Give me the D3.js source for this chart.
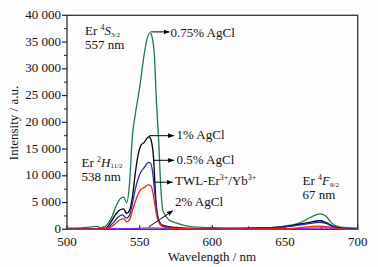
<!DOCTYPE html>
<html><head><meta charset="utf-8">
<script src="https://cdn.jsdelivr.net/npm/d3@7/dist/d3.min.js"></script>
<style>
body{margin:0;background:#fdfdfd;}
svg text{font-family:"Liberation Serif","Times New Roman",serif;fill:#111;}
</style></head>
<body><svg id="c" width="378" height="267"></svg>
<script>
// ---- data ----
const xTicks = [500, 550, 600, 650, 700];
const yTicks = [0, 5000, 10000, 15000, 20000, 25000, 30000, 35000, 40000];
const yTickLabels = ["0", "5 000", "10 000", "15 000", "20 000", "25 000", "30 000", "35 000", "40 000"];

const wlGreen = [500,510,515,520,524,527,531,534,537,539,541,543,545,547,550,553,555,557,558,560,561.5,563,564.5,566,570,576,585,600,620,640,650,660,668,674,678,682,688,700];
const green   = [200,250,400,550,300,700,2400,4500,5800,6000,5000,8500,17500,21500,26500,32500,35500,36700,36400,33000,24000,17000,8000,3500,1800,1100,500,300,200,300,600,1200,2300,2900,2500,1200,400,200];

const wlBlack = [500,525,528,531,534,537,539,541,543,545,547,549,551,553,555,556.5,558,559.5,561,562.5,565,570,580,600,640,655,665,674,678,683,690,700];
const black   = [0,100,500,1700,3000,3700,3800,3000,3500,6000,10500,14000,15800,16200,17000,17300,16500,13500,6000,2000,900,500,200,100,300,700,1200,1600,1300,600,150,50];

const wlBlue = [500,526,529,532,535,538,541,543,545,547,549,551,553,556,557.5,559,560.5,562,564,567,575,600,640,655,665,674,678,683,690,700];
const blue   = [0,100,500,1300,2200,2700,2100,2600,4800,7500,9500,10800,11500,12500,12400,10500,6500,3200,1200,500,200,80,250,600,1000,1300,1100,500,100,50];

const wlRed = [500,527,530,533,536,539,541,543,545,547,549,551,553,556,557.5,559,560.5,562,564,567,575,600,650,660,668,674,678,684,690,700];
const red   = [0,100,400,1000,1700,2000,1400,1800,3500,5200,6600,7500,7800,8300,8200,7000,4500,2200,900,400,150,50,100,300,500,600,500,200,50,0];

const wlPurple = [500,540,557,575,600,650,674,700];
const purple   = [80,120,250,120,80,100,250,80];

const seriesNames = ["0.75% AgCl", "1% AgCl", "0.5% AgCl", "TWL-Er3+/Yb3+", "2% AgCl"];

// ---- layout ----
const svg = d3.select("#c");
const L = 67, R = 357.7, T = 15.3, B = 229.3;
const x = d3.scaleLinear().domain([500, 700]).range([L, R]);
const y = d3.scaleLinear().domain([0, 40000]).range([B, T]);

// frame
svg.append("rect").attr("x", L).attr("y", T).attr("width", R - L).attr("height", B - T)
  .attr("fill", "none").attr("stroke", "#333").attr("stroke-width", 1.3);

// y axis
const yMinor = d3.range(0, 40001, 2500).filter(v => v % 5000 !== 0);
const gy = svg.append("g");
gy.selectAll("line.maj").data(yTicks).join("line")
  .attr("x1", L - 5).attr("x2", L).attr("y1", d => y(d)).attr("y2", d => y(d))
  .attr("stroke", "#222").attr("stroke-width", 1.2);
gy.selectAll("line.min").data(yMinor).join("line")
  .attr("x1", L - 3).attr("x2", L).attr("y1", d => y(d)).attr("y2", d => y(d))
  .attr("stroke", "#222").attr("stroke-width", 1);
gy.selectAll("text").data(yTicks).join("text")
  .attr("x", L - 6).attr("y", d => y(d) + 3.5).attr("text-anchor", "end")
  .attr("font-size", 13).text((d, i) => yTickLabels[i]);

// x axis
const xMinor = d3.range(525, 700, 50);
const gx = svg.append("g");
gx.selectAll("line.maj").data(xTicks).join("line")
  .attr("x1", d => x(d)).attr("x2", d => x(d)).attr("y1", B).attr("y2", B - 4)
  .attr("stroke", "#222").attr("stroke-width", 1.2);
gx.selectAll("line.min").data(xMinor).join("line")
  .attr("x1", d => x(d)).attr("x2", d => x(d)).attr("y1", B).attr("y2", B - 3)
  .attr("stroke", "#222").attr("stroke-width", 1);
gx.selectAll("text").data(xTicks).join("text")
  .attr("x", d => x(d)).attr("y", 245.5).attr("text-anchor", "middle")
  .attr("font-size", 13).text(d => d);

// axis titles
svg.append("text").attr("x", 212).attr("y", 260.5).attr("text-anchor", "middle")
  .attr("font-size", 13).text("Wavelength / nm");
svg.append("text").attr("transform", "translate(18,123) rotate(-90)").attr("text-anchor", "middle")
  .attr("font-size", 13).text("Intensity / a.u.");

// curves
const line = d3.line().x(d => x(d[0])).y(d => y(d[1])).curve(d3.curveMonotoneX);
const zip = (a, b) => a.map((v, i) => [v, b[i]]);
const curves = [
  [wlPurple, purple, "#8a2be2"],
  [wlGreen, green, "#1e7a4c"],
  [wlBlack, black, "#000000"],
  [wlBlue, blue, "#2b2bb0"],
  [wlRed, red, "#f02020"]
];
svg.append("g").selectAll("path").data(curves).join("path")
  .attr("d", d => line(zip(d[0], d[1])))
  .attr("fill", "none").attr("stroke", d => d[2]).attr("stroke-width", 1.3);

// arrow marker
svg.append("defs").append("marker").attr("id", "ah").attr("viewBox", "0 0 10 10")
  .attr("refX", 10).attr("refY", 5).attr("markerWidth", 6).attr("markerHeight", 6)
  .attr("markerUnits", "userSpaceOnUse").attr("orient", "auto")
  .append("path").attr("d", "M0,1 L10,5 L0,9 Z").attr("fill", "#000");

// annotations (arrows from curves to labels)
const ann = [
  {from: [557.5, 36900], to: [x(557.5) + 19, y(36900)]},
  {from: [556.5, 17500], to: [x(556.5) + 25, y(17500)]},
  {from: [559.3, 12900], to: [x(559.3) + 21, y(12900)]},
  {from: [560.3, 8800], to: [x(560.3) + 18, y(8800)]},
  {from: [556.5, 500], to: [x(556.5) + 24, 210.5]}
];
ann.forEach(a => {
  svg.append("line").attr("x1", x(a.from[0])).attr("y1", y(a.from[1]))
    .attr("x2", a.to[0]).attr("y2", a.to[1])
    .attr("stroke", "#000").attr("stroke-width", 1).attr("marker-end", "url(#ah)");
});
svg.append("text").attr("x", 170.5).attr("y", 37).attr("font-size", 13).text(seriesNames[0]);
svg.append("text").attr("x", 176.5).attr("y", 138.5).attr("font-size", 13).text(seriesNames[1]);
svg.append("text").attr("x", 176.5).attr("y", 163.5).attr("font-size", 13).text(seriesNames[2]);
const tw = svg.append("text").attr("x", 175).attr("y", 184.5).attr("font-size", 13);
tw.append("tspan").text("TWL-Er");
tw.append("tspan").attr("font-size", 8).attr("dy", -5).text("3+");
tw.append("tspan").attr("dy", 5).text("/Yb");
tw.append("tspan").attr("font-size", 8).attr("dy", -5).text("3+");
svg.append("text").attr("x", 175).attr("y", 206).attr("font-size", 13).text(seriesNames[4]);

// transition labels
function trans(xp, yp, sup, letter, sub, nm) {
  const t = svg.append("text").attr("x", xp).attr("y", yp).attr("font-size", 13);
  t.append("tspan").text("Er ");
  t.append("tspan").attr("font-size", 8).attr("dy", -5).text(sup);
  t.append("tspan").attr("font-style", "italic").attr("dy", 5).text(letter);
  t.append("tspan").attr("font-size", 7).attr("dy", 1.5).text(sub);
  svg.append("text").attr("x", xp).attr("y", yp + 14).attr("font-size", 13).text(nm);
}
trans(85, 35, "4", "S", "3/2", "557 nm");
trans(81.5, 166.5, "2", "H", "11/2", "538 nm");
trans(302.5, 185, "4", "F", "9/2", "67 nm");
</script></body></html>
